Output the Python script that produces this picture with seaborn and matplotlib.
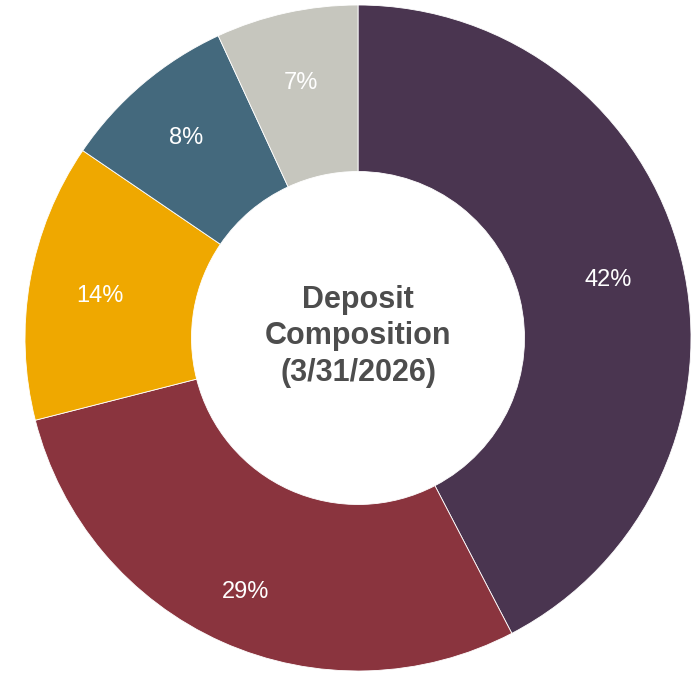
import matplotlib
matplotlib.use("Agg")
import matplotlib.pyplot as plt
import seaborn as sns
import numpy as np

categories = ["Cat A", "Cat B", "Cat C", "Cat D", "Cat E"]
values = [42.4, 28.7, 13.5, 8.6, 6.9]
labels = ["42%", "29%", "14%", "8%", "7%"]
colors = ["#4A3550", "#8A343E", "#EFA800", "#44697D", "#C6C6BE"]
label_radius = [0.775, 0.825, 0.787, 0.800, 0.795]

sns.set_theme(style="white")
plt.rcParams["font.family"] = ["Liberation Sans", "DejaVu Sans"]

fig = plt.figure(figsize=(6.98, 6.73), dpi=100)
W, H = 698, 673
cx, cy, R = 358, 673 - 338, 333
ax = fig.add_axes([(cx - R) / W, (cy - R) / H, 2 * R / W, 2 * R / H])

wedges, _ = ax.pie(values, colors=colors, startangle=90, counterclock=False,
                   radius=1.0, wedgeprops=dict(width=0.5, edgecolor="white", linewidth=0.6))
cum = 0
tot = sum(values)
for v, lab, r in zip(values, labels, label_radius):
    mid = 90 - (cum + v / 2) / tot * 360
    cum += v
    ax.text(r * np.cos(np.radians(mid)), r * np.sin(np.radians(mid)) - 0.01, lab,
            ha="center", va="center", color="white", fontsize=17)

ax.text(0, 0.005, "Deposit\nComposition\n(3/31/2026)", ha="center", va="center",
        fontsize=22, fontweight="bold", color="#4D4D4D", linespacing=1.27)
ax.set_xlim(-1, 1)
ax.set_ylim(-1, 1)
ax.set_aspect("equal")
ax.axis("off")
fig.savefig("out.png", dpi=100)
